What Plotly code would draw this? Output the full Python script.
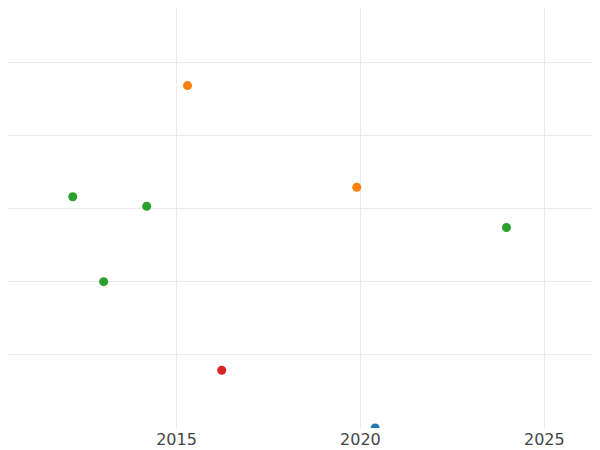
import plotly.graph_objects as go

years = {
    "blue": [2020.4],
    "orange": [2015.3, 2019.9],
    "green": [2012.18, 2014.19, 2013.02, 2023.97],
    "red": [2016.23],
}
values = {
    "blue": [0.0],
    "orange": [4.68, 3.29],
    "green": [3.16, 3.03, 2.0, 2.74],
    "red": [0.79],
}
colors = {"blue": "#1f77b4", "orange": "#ff7f0e", "green": "#2ca02c", "red": "#d62728"}

fig = go.Figure()
for k in years:
    fig.add_trace(go.Scatter(x=years[k], y=values[k], mode="markers",
                             marker=dict(color=colors[k], size=9), cliponaxis=True))
fig.update_layout(
    width=600, height=450, margin=dict(l=0, r=0, t=0, b=30),
    plot_bgcolor="white", paper_bgcolor="white", showlegend=False,
    font=dict(family="DejaVu Sans", size=16, color="#444"),
)
fig.update_xaxes(range=[2010.42, 2026.73], tickvals=[2015, 2020, 2025],
                 showgrid=True, gridcolor="#ebebeb", zeroline=False)
fig.update_yaxes(range=[0, 5.74], dtick=1, showticklabels=False,
                 showgrid=True, gridcolor="#ebebeb", zeroline=False)
fig.write_html("out.html")
